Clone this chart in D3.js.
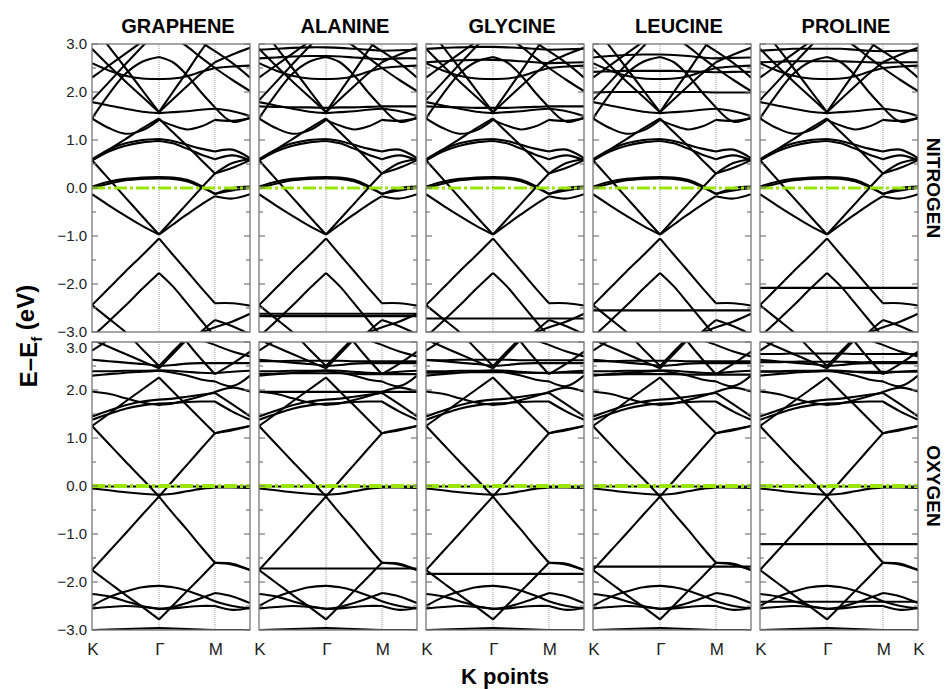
<!DOCTYPE html>
<html>
<head>
<meta charset="utf-8">
<script src="https://cdn.jsdelivr.net/npm/d3@7"></script>
<style>
body { margin: 0; background: #fff; }
text { font-family: "Liberation Sans", Arial, sans-serif; }
</style>
</head>
<body>
<svg id="chart" width="945" height="689"></svg>
<script>
// k-path sample points (fraction of path K-Γ-M-K)
var kGrid = [0, 0.106, 0.212, 0.318, 0.424, 0.512, 0.601, 0.689, 0.778, 0.889, 1.0];
var kTickPos = [0, 0.424, 0.778, 1.0];
var kTickLabels = ["K", "Γ", "M", "K"];
var segments = [[0, 4], [4, 8], [8, 10]];

var systems = ["GRAPHENE", "ALANINE", "GLYCINE", "LEUCINE", "PROLINE"];
var dopants = ["NITROGEN", "OXYGEN"];

var yTicks = [-3, -2.5, -2, -1.5, -1, -0.5, 0, 0.5, 1, 1.5, 2, 2.5, 3];
var yTickLabels = ["−3.0", "", "−2.0", "", "−1.0", "", "0.0", "", "1.0", "", "2.0", "", "3.0"];

// band energies (eV) at kGrid, nitrogen-doped sheet
var nitrogenBands = [
    [-3.1, -2.78, -2.45, -2.1, -1.77, -2.05, -2.4, -2.75, -3.1, -3.3, -3.3],
    [-2.44, -2.09, -1.74, -1.4, -1.05, -1.39, -1.73, -2.07, -2.4, -2.4, -2.45],
    [-2.44, -2.72, -3.0, -3.3, -3.5, -3.5, -3.3, -3.0, -2.75, -2.88, -3.05],
    [-3.3, -3.3, -3.3, -3.3, -3.3, -3.3, -3.2, -3.02, -2.9, -2.78, -2.62],
    [-0.13, -0.36, -0.58, -0.79, -0.97, -0.76, -0.55, -0.35, -0.17, -0.22, -0.13],
    [0.58, 0.19, -0.2, -0.59, -0.97, -0.65, -0.33, -0.01, 0.3, 0.42, 0.58],
    [0.03, 0.13, 0.19, 0.22, 0.23, 0.22, 0.17, 0.05, -0.13, 0.0, 0.03],
    [0.0, 0.09, 0.16, 0.19, 0.2, 0.19, 0.14, 0.02, -0.12, -0.05, 0.0],
    [0.58, 0.8, 1.02, 1.24, 1.45, 1.16, 0.88, 0.59, 0.3, 0.52, 0.6],
    [0.6, 0.8, 0.93, 1.0, 1.02, 0.98, 0.9, 0.82, 0.76, 0.8, 0.62],
    [0.57, 0.76, 0.88, 0.95, 0.98, 0.93, 0.82, 0.7, 0.6, 0.68, 0.58],
    [1.45, 1.25, 1.13, 1.2, 1.42, 1.3, 1.22, 1.28, 1.42, 1.4, 1.45],
    [1.79, 1.72, 1.65, 1.59, 1.56, 1.58, 1.6, 1.63, 1.65, 1.6, 1.5],
    [2.6, 2.45, 2.34, 2.28, 2.27, 2.28, 2.33, 2.42, 2.5, 2.53, 2.55],
    [1.45, 1.95, 2.38, 2.63, 2.73, 2.62, 2.35, 2.0, 1.68, 1.38, 1.47],
    [3.4, 2.95, 2.5, 2.04, 1.58, 2.0, 2.42, 2.85, 3.25, 3.4, 3.4],
    [2.9, 2.55, 2.22, 1.9, 1.58, 1.85, 2.12, 2.38, 2.62, 2.78, 2.92],
    [1.83, 2.2, 2.58, 2.95, 3.3, 3.4, 3.4, 3.4, 3.4, 3.4, 3.4],
    [2.3, 2.55, 2.8, 3.05, 3.3, 3.4, 3.4, 3.4, 3.4, 3.4, 3.4],
    [3.4, 3.4, 3.4, 3.4, 3.4, 3.15, 2.95, 2.72, 2.5, 2.25, 2.02],
    [3.4, 3.4, 3.4, 3.4, 3.4, 3.4, 3.3, 3.05, 2.85, 2.6, 2.3]
];

// band energies (eV) at kGrid, oxygen-doped sheet
var oxygenBands = [
    [1.25, 0.88, 0.51, 0.15, -0.22, 0.11, 0.44, 0.77, 1.1, 1.16, 1.25],
    [-1.75, -1.37, -0.99, -0.6, -0.22, -0.57, -0.91, -1.26, -1.6, -1.62, -1.75],
    [-1.75, -2.01, -2.27, -2.52, -2.78, -2.49, -2.19, -1.9, -1.6, -1.64, -1.75],
    [1.25, 1.5, 1.76, 2.01, 2.26, 1.97, 1.68, 1.39, 1.1, 1.18, 1.25],
    [-0.05, -0.09, -0.13, -0.16, -0.18, -0.16, -0.11, -0.06, -0.03, -0.03, -0.04],
    [-0.01, -0.01, -0.01, -0.01, -0.01, -0.01, -0.01, -0.01, -0.01, -0.01, -0.01],
    [1.97, 1.92, 1.83, 1.74, 1.69, 1.72, 1.79, 1.87, 1.96, 2.05, 1.97],
    [1.38, 1.5, 1.61, 1.68, 1.72, 1.73, 1.75, 1.76, 1.76, 1.55, 1.38],
    [1.45, 1.57, 1.68, 1.76, 1.8, 1.82, 1.86, 1.9, 1.94, 1.7, 1.45],
    [2.39, 2.39, 2.4, 2.4, 2.41, 2.4, 2.38, 2.36, 2.35, 2.38, 2.4],
    [2.63, 2.6, 2.57, 2.54, 2.5, 2.52, 2.55, 2.56, 2.56, 2.56, 2.56],
    [3.05, 2.9, 2.75, 2.6, 2.45, 2.75, 3.05, 3.3, 3.4, 3.4, 3.4],
    [3.4, 3.4, 3.2, 2.85, 2.5, 2.8, 3.1, 3.4, 3.4, 3.4, 3.4],
    [2.82, 3.05, 3.3, 3.4, 3.4, 3.4, 3.4, 3.4, 3.4, 3.4, 3.4],
    [3.4, 3.4, 3.4, 3.4, 3.4, 3.4, 3.2, 3.05, 2.94, 2.8, 2.7],
    [3.4, 3.4, 3.4, 3.4, 3.4, 3.4, 3.0, 2.65, 2.33, 2.55, 2.8],
    [2.3, 2.33, 2.36, 2.38, 2.4, 2.36, 2.3, 2.22, 2.18, 2.08, 2.3],
    [-2.5, -2.32, -2.2, -2.11, -2.08, -2.11, -2.18, -2.28, -2.4, -2.5, -2.55],
    [-2.25, -2.3, -2.4, -2.5, -2.56, -2.52, -2.44, -2.34, -2.23, -2.3, -2.44],
    [-2.55, -2.52, -2.5, -2.52, -2.56, -2.55, -2.52, -2.5, -2.5, -2.58, -2.54],
    [-3.0, -2.99, -2.98, -2.97, -2.96, -2.97, -2.98, -2.99, -3.0, -3.0, -3.0]
];

// extra (molecule) bands per column, nitrogen row
var nitrogenExtra = [
    [],
    [[-2.62, -2.62, -2.62, -2.62, -2.62, -2.62, -2.62, -2.62, -2.62, -2.62, -2.62],
     [-2.67, -2.67, -2.67, -2.67, -2.67, -2.67, -2.67, -2.67, -2.67, -2.67, -2.67],
     [1.7, 1.69, 1.68, 1.68, 1.67, 1.68, 1.68, 1.69, 1.7, 1.7, 1.7],
     [2.7, 2.72, 2.74, 2.75, 2.75, 2.74, 2.72, 2.7, 2.68, 2.7, 2.7],
     [2.88, 2.9, 2.92, 2.93, 2.93, 2.92, 2.9, 2.88, 2.86, 2.87, 2.88]],
    [[-2.72, -2.72, -2.72, -2.72, -2.72, -2.72, -2.72, -2.72, -2.72, -2.72, -2.72],
     [1.7, 1.69, 1.68, 1.67, 1.67, 1.67, 1.68, 1.69, 1.7, 1.7, 1.7],
     [2.62, 2.64, 2.66, 2.67, 2.67, 2.66, 2.64, 2.62, 2.6, 2.61, 2.62],
     [2.9, 2.92, 2.93, 2.94, 2.94, 2.93, 2.92, 2.9, 2.88, 2.89, 2.9]],
    [[-2.55, -2.55, -2.55, -2.55, -2.55, -2.55, -2.55, -2.55, -2.55, -2.55, -2.55],
     [1.99, 2.0, 2.0, 2.0, 2.0, 2.0, 2.0, 2.0, 1.99, 1.99, 1.99],
     [2.42, 2.43, 2.44, 2.44, 2.44, 2.44, 2.43, 2.42, 2.41, 2.42, 2.42],
     [2.72, 2.75, 2.77, 2.78, 2.78, 2.77, 2.75, 2.72, 2.7, 2.71, 2.72]],
    [[-2.08, -2.08, -2.08, -2.08, -2.08, -2.08, -2.08, -2.08, -2.08, -2.08, -2.08],
     [2.62, 2.63, 2.64, 2.64, 2.64, 2.64, 2.63, 2.62, 2.61, 2.62, 2.62],
     [2.86, 2.88, 2.9, 2.9, 2.9, 2.9, 2.88, 2.86, 2.85, 2.86, 2.86]]
];

// extra (molecule) bands per column, oxygen row
var oxygenExtra = [
    [],
    [[-1.72, -1.72, -1.72, -1.72, -1.72, -1.72, -1.72, -1.72, -1.72, -1.72, -1.72],
     [2.6, 2.6, 2.61, 2.61, 2.61, 2.61, 2.6, 2.6, 2.6, 2.6, 2.6],
     [2.33, 2.34, 2.35, 2.35, 2.35, 2.35, 2.34, 2.33, 2.33, 2.33, 2.33],
     [1.96, 1.96, 1.96, 1.96, 1.96, 1.96, 1.96, 1.96, 1.96, 1.96, 1.96]],
    [[-1.83, -1.83, -1.83, -1.83, -1.83, -1.83, -1.83, -1.83, -1.83, -1.83, -1.83],
     [2.62, 2.62, 2.63, 2.63, 2.63, 2.63, 2.62, 2.62, 2.62, 2.62, 2.62],
     [2.36, 2.36, 2.37, 2.37, 2.37, 2.37, 2.36, 2.36, 2.36, 2.36, 2.36]],
    [[-1.68, -1.68, -1.68, -1.68, -1.68, -1.68, -1.68, -1.68, -1.68, -1.68, -1.68],
     [2.6, 2.6, 2.61, 2.61, 2.61, 2.61, 2.6, 2.6, 2.6, 2.6, 2.6],
     [2.32, 2.32, 2.33, 2.33, 2.33, 2.33, 2.32, 2.32, 2.32, 2.32, 2.32]],
    [[-1.21, -1.21, -1.21, -1.21, -1.21, -1.21, -1.21, -1.21, -1.21, -1.21, -1.21],
     [-2.41, -2.41, -2.41, -2.41, -2.41, -2.41, -2.41, -2.41, -2.41, -2.41, -2.41],
     [2.75, 2.75, 2.76, 2.76, 2.76, 2.76, 2.75, 2.75, 2.75, 2.75, 2.75],
     [2.58, 2.58, 2.59, 2.59, 2.59, 2.59, 2.58, 2.58, 2.58, 2.58, 2.58],
     [2.38, 2.38, 2.39, 2.39, 2.39, 2.39, 2.38, 2.38, 2.38, 2.38, 2.38]]
];

var rowBands = [nitrogenBands, oxygenBands];
var rowExtra = [nitrogenExtra, oxygenExtra];

var svg = d3.select("#chart");

var left0 = 92, panelW = 158, stepX = 167;
var rowTop = [44, 342], panelH = 288;

for (var r = 0; r < 2; r++) {
    for (var c = 0; c < 5; c++) {
        drawPanel(r, c);
    }
}

function drawPanel(r, c) {
    var x0 = left0 + c * stepX;
    var y0 = rowTop[r];
    var x = d3.scaleLinear().domain([0, 1]).range([x0, x0 + panelW]);
    var y = d3.scaleLinear().domain([-3, 3]).range([y0 + panelH, y0]);

    var g = svg.append("g");
    var clipId = "clip" + r + c;
    g.append("clipPath").attr("id", clipId)
        .append("rect")
        .attr("x", x0).attr("y", y0)
        .attr("width", panelW).attr("height", panelH);

    // vertical lines at Γ and M
    g.selectAll(".vline")
        .data(kTickPos.slice(1, 3))
        .enter().append("line")
        .attr("x1", function(d) { return x(d); })
        .attr("x2", function(d) { return x(d); })
        .attr("y1", y0).attr("y2", y0 + panelH)
        .attr("stroke", "#999")
        .attr("stroke-width", 1)
        .attr("stroke-dasharray", "1,1");

    var line = d3.line()
        .x(function(d) { return x(d[0]); })
        .y(function(d) { return y(d[1]); })
        .curve(d3.curveCatmullRom.alpha(0.5));

    var bands = rowBands[r].concat(rowExtra[r][c]);
    var bandG = g.append("g").attr("clip-path", "url(#" + clipId + ")");

    bands.forEach(function(band) {
        segments.forEach(function(s) {
            var pts = [];
            for (var i = s[0]; i <= s[1]; i++) pts.push([kGrid[i], band[i]]);
            bandG.append("path")
                .attr("d", line(pts))
                .attr("fill", "none")
                .attr("stroke", "#000")
                .attr("stroke-width", 2.1);
        });
    });

    // Fermi level
    bandG.append("line")
        .attr("x1", x(0)).attr("x2", x(1))
        .attr("y1", y(0)).attr("y2", y(0))
        .attr("stroke", "#9be60a")
        .attr("stroke-width", r == 0 ? 3.2 : 4)
        .attr("stroke-dasharray", "13,3,3,3");

    // frame
    g.append("rect")
        .attr("x", x0).attr("y", y0)
        .attr("width", panelW).attr("height", panelH)
        .attr("fill", "none")
        .attr("stroke", "#777")
        .attr("stroke-width", 1.3);

    // inward ticks on both sides
    var tickG = g.selectAll(".tick")
        .data(yTicks)
        .enter().append("g");
    tickG.append("line")
        .attr("x1", x0).attr("x2", function(d, i) { return x0 + (i % 2 == 0 ? 6 : 4); })
        .attr("y1", function(d) { return y(d); })
        .attr("y2", function(d) { return y(d); })
        .attr("stroke", "#777").attr("stroke-width", 1.2);
    tickG.append("line")
        .attr("x1", x0 + panelW).attr("x2", function(d, i) { return x0 + panelW - (i % 2 == 0 ? 6 : 4); })
        .attr("y1", function(d) { return y(d); })
        .attr("y2", function(d) { return y(d); })
        .attr("stroke", "#777").attr("stroke-width", 1.2);

    if (c == 0) {
        g.selectAll(".ylab")
            .data(yTicks)
            .enter().append("text")
            .attr("x", x0 - 5)
            .attr("y", function(d) { return y(d) + (r == 1 && d == 3 ? 6 : 0); })
            .attr("dy", "0.36em")
            .style("text-anchor", "end")
            .style("font-size", "15px")
            .attr("fill", "#222")
            .text(function(d, i) { return yTickLabels[i]; });
    }

    if (r == 0) {
        g.append("text")
            .attr("x", x0 + panelW / 2 + 7)
            .attr("y", 33)
            .style("text-anchor", "middle")
            .style("font-size", "20px")
            .style("font-weight", "bold")
            .text(systems[c]);
    }

    if (r == 1) {
        var labs = kTickPos.map(function(d, i) { return [d, kTickLabels[i]]; });
        if (c < 4) labs = labs.slice(0, 3);
        g.selectAll(".klab")
            .data(labs)
            .enter().append("text")
            .attr("x", function(d) { return x(d[0]) + 1; })
            .attr("y", 655)
            .style("text-anchor", "middle")
            .style("font-size", "17px")
            .attr("fill", "#222")
            .text(function(d) { return d[1]; });
    }

    if (c == 4) {
        g.append("text")
            .attr("transform", "translate(927," + (y0 + panelH / 2) + ") rotate(90)")
            .style("text-anchor", "middle")
            .style("font-size", "19px")
            .style("font-weight", "bold")
            .text(dopants[r]);
    }
}

// axis titles
var yTitle = svg.append("text")
    .attr("transform", "translate(37,336) rotate(-90)")
    .style("text-anchor", "middle")
    .style("font-size", "24px")
    .style("font-weight", "bold");
yTitle.append("tspan").text("E–E");
yTitle.append("tspan").attr("dy", "0.3em").style("font-size", "15px").text("f");
yTitle.append("tspan").attr("dy", "-0.3em").text(" (eV)");

svg.append("text")
    .attr("x", 505)
    .attr("y", 684)
    .style("text-anchor", "middle")
    .style("font-size", "22px")
    .style("font-weight", "bold")
    .text("K points");
</script>
</body>
</html>
